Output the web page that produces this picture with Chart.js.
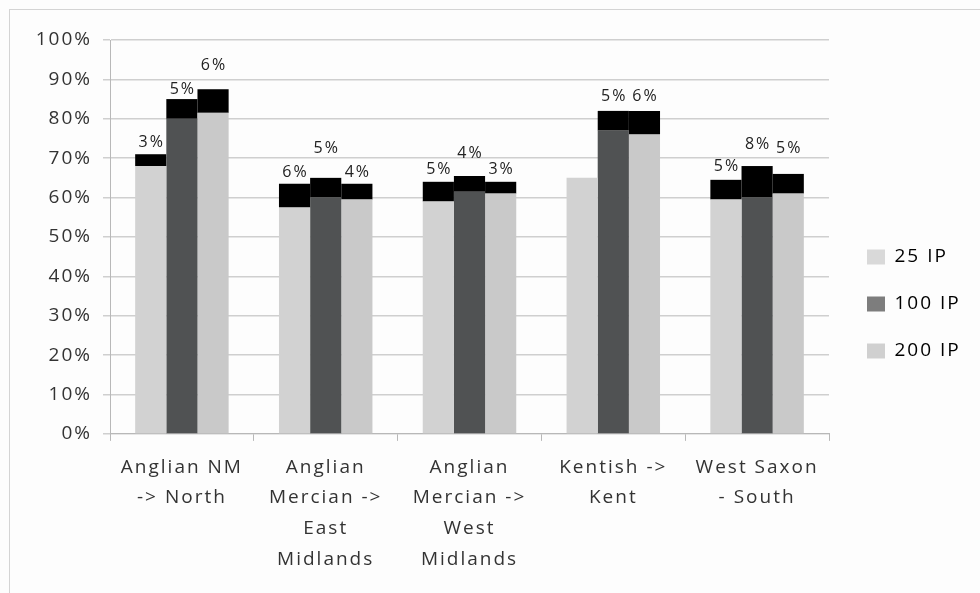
<!DOCTYPE html>
<html>
<head>
<meta charset="utf-8">
<script src="https://cdn.jsdelivr.net/npm/chart.js@4.4.1/dist/chart.umd.min.js"></script>
<style>
  html, body { margin: 0; padding: 0; background: #fdfdfd; }
  #wrap { width: 980px; height: 593px; }
</style>
</head>
<body>
<div id="wrap"><canvas id="myChart" width="980" height="593"></canvas></div>
<script>
const categories = [
    ['Anglian NM', '-> North'],
    ['Anglian', 'Mercian ->', 'East', 'Midlands'],
    ['Anglian', 'Mercian ->', 'West', 'Midlands'],
    ['Kentish ->', 'Kent'],
    ['West Saxon', '- South']
];
const seriesNames = ['25 IP', '100 IP', '200 IP'];

// lower part of each bar
const base25 = [68, 57.5, 59, 65, 59.5];
const base100 = [80, 60, 61.5, 77, 60];
const base200 = [81.5, 59.5, 61, 76, 61];

// black part stacked on top, this is the labelled value
const gain25 = [3, 6, 5, 0, 5];
const gain100 = [5, 5, 4, 5, 8];
const gain200 = [6, 4, 3, 6, 5];

const yTicks = [0, 10, 20, 30, 40, 50, 60, 70, 80, 90, 100];

const barColors = ['#d2d2d2', '#505253', '#c9c9c9'];
const keyColors = ['#d9d9d9', '#7d7d7d', '#d0d0d0'];
// gap in px between top of bar and its label
const labelRaise = [
    [4, 3, 4, 0, 5],
    [2, 21, 14, 6, 14],
    [16, 3, 4, 6, 17]
];

const FONT = "'Open Sans', sans-serif";

const pageFrame = {
    id: 'pageFrame',
    beforeUpdate(chart) {
        // wide spaced text
        chart.ctx.letterSpacing = '2px';
    },
    beforeLayout(chart) {
        const lg = chart.legend;
        if (lg && !lg._fixedWidth) {
            const fit = lg.fit;
            lg.fit = function () {
                fit.call(this);
                this.width = 141;
            };
            lg._fixedWidth = true;
        }
    },
    afterLayout(chart) {
        const lg = chart.legend;
        lg.left += 10;
        lg.right += 10;
        lg.top -= 9;
        lg.bottom -= 9;
    },
    beforeDraw(chart) {
        const c = chart.ctx;
        c.save();
        c.fillStyle = '#fdfdfd';
        c.fillRect(0, 0, chart.width, chart.height);
        c.strokeStyle = '#d4d4d4';
        c.lineWidth = 1;
        c.strokeRect(9.5, 9.5, chart.width + 10, chart.height + 10);
        c.restore();
    }
};

const gainLabels = {
    id: 'gainLabels',
    afterDatasetsDraw(chart) {
        const c = chart.ctx;
        c.save();
        c.font = '16px ' + FONT;
        c.fillStyle = '#222';
        c.textAlign = 'center';
        c.textBaseline = 'bottom';
        for (let s = 0; s < 3; s++) {
            const meta = chart.getDatasetMeta(3 + s);
            const vals = chart.data.datasets[3 + s].data;
            meta.data.forEach((bar, i) => {
                if (!vals[i]) return;
                c.fillText(vals[i] + '%', bar.x + 1, bar.y - labelRaise[s][i]);
            });
        }
        c.restore();
    }
};

const ctx = document.getElementById('myChart');
new Chart(ctx, {
    type: 'bar',
    data: {
        labels: categories,
        datasets: [
            { label: seriesNames[0], data: base25, stack: 's25', backgroundColor: barColors[0] },
            { label: seriesNames[1], data: base100, stack: 's100', backgroundColor: barColors[1] },
            { label: seriesNames[2], data: base200, stack: 's200', backgroundColor: barColors[2] },
            { label: seriesNames[0] + ' top', data: gain25, stack: 's25', backgroundColor: '#000' },
            { label: seriesNames[1] + ' top', data: gain100, stack: 's100', backgroundColor: '#000' },
            { label: seriesNames[2] + ' top', data: gain200, stack: 's200', backgroundColor: '#000' }
        ]
    },
    options: {
        responsive: false,
        animation: false,
        layout: { padding: { left: 0, top: 40, right: 10, bottom: 7 } },
        datasets: {
            bar: { categoryPercentage: 0.65, barPercentage: 1, borderWidth: 0 }
        },
        plugins: {
            tooltip: { enabled: false },
            legend: {
                position: 'right',
                align: 'center',
                labels: {
                    boxWidth: 18,
                    boxHeight: 15,
                    padding: 28,
                    color: '#333',
                    font: { family: FONT, size: 19 },
                    generateLabels: chart => seriesNames.map((name, i) => ({
                        text: name,
                        fillStyle: keyColors[i],
                        strokeStyle: keyColors[i],
                        lineWidth: 0,
                        datasetIndex: i
                    }))
                }
            }
        },
        scales: {
            x: {
                stacked: true,
                grid: {
                    display: true,
                    drawOnChartArea: false,
                    tickLength: 7,
                    color: '#b8b8b8'
                },
                border: { color: '#b8b8b8', width: 1 },
                ticks: {
                    maxRotation: 0,
                    autoSkip: false,
                    padding: 11,
                    color: '#333',
                    font: { family: FONT, size: 19, lineHeight: 1.62 }
                }
            },
            y: {
                stacked: true,
                min: 0,
                max: 100,
                afterFit: scale => { scale.width = 110; },
                afterBuildTicks: scale => { scale.ticks = yTicks.map(v => ({ value: v })); },
                grid: { color: '#cfcfcf', lineWidth: 1.5, tickLength: 7 },
                border: { color: '#b8b8b8', width: 1 },
                ticks: {
                    padding: 11,
                    color: '#333',
                    font: { family: FONT, size: 19 },
                    callback: v => v + '%'
                }
            }
        }
    },
    plugins: [pageFrame, gainLabels]
});
</script>
</body>
</html>
